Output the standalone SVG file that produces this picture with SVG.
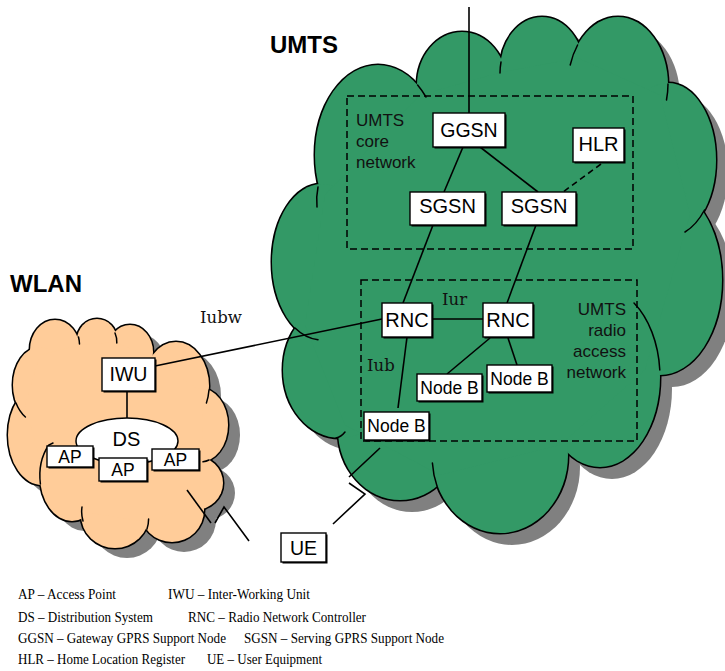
<svg xmlns="http://www.w3.org/2000/svg" width="725" height="671" viewBox="0 0 725 671">
<style>
  .shadow{fill:#808080;stroke:none}
  .umts-edge{fill:#339966;stroke:#000;stroke-width:3}
  .umts-fill{fill:#339966;stroke:none}
  .wlan-edge{fill:#ffcc99;stroke:#000;stroke-width:3}
  .wlan-fill{fill:#ffcc99;stroke:none}
  .crease{fill:none;stroke:#000;stroke-width:1.5;stroke-linecap:round}
  .frame{fill:none;stroke:#000;stroke-width:1.5;stroke-dasharray:7 4}
  .link{fill:none;stroke:#000;stroke-width:1.6}
  .dashed{stroke-dasharray:6 4}
  .box{fill:#fff;stroke:#000;stroke-width:1.4}
  .drop{fill:#000}
  .sans{font-family:"Liberation Sans",Arial,sans-serif;fill:#000}
  .mid{text-anchor:middle}
  .end{text-anchor:end}
  .title{font-weight:bold;font-size:24px}
  .note{font-size:17px;fill:#111}
  .iface{font-family:"DejaVu Serif","Liberation Serif",serif;font-size:16.5px;fill:#111}
  .legend{font-family:"Liberation Serif","Times New Roman",serif;font-size:15px;fill:#000}
</style>
<defs>
  <!-- UMTS cloud: overlapping lobes plus a core patch that closes the middle -->
  <g id="umts-lobes">
    <ellipse cx="378" cy="155" rx="63" ry="90"/>
    <ellipse cx="462" cy="85" rx="45" ry="53"/>
    <ellipse cx="542" cy="70" rx="42" ry="53"/>
    <ellipse cx="618" cy="85" rx="50" ry="68"/>
    <ellipse cx="668" cy="160" rx="48" ry="77"/>
    <ellipse cx="660" cy="280" rx="62" ry="95"/>
    <ellipse cx="600" cy="377" rx="60" ry="90"/>
    <ellipse cx="500" cy="455" rx="68" ry="78"/>
    <ellipse cx="400" cy="430" rx="62" ry="70"/>
    <ellipse cx="340" cy="370" rx="57" ry="68"/>
    <ellipse cx="322" cy="262" rx="50" ry="78"/>
  </g>
  <polygon id="umts-core" points="325,195 420,95 502,72 578,58 660,95 690,215 645,370 560,445 440,475 345,425 305,325"/>
  <!-- WLAN cloud -->
  <g id="wlan-lobes">
    <ellipse cx="55" cy="350" rx="25" ry="30"/>
    <ellipse cx="97" cy="340" rx="20" ry="21"/>
    <ellipse cx="130" cy="352" rx="23" ry="27"/>
    <ellipse cx="176" cy="386" rx="33" ry="44"/>
    <ellipse cx="200" cy="425" rx="28" ry="37"/>
    <ellipse cx="195" cy="483" rx="28" ry="27"/>
    <ellipse cx="172" cy="510" rx="32" ry="32"/>
    <ellipse cx="115" cy="515" rx="34" ry="33"/>
    <ellipse cx="72" cy="476" rx="32" ry="45"/>
    <ellipse cx="42" cy="435" rx="34" ry="50"/>
    <ellipse cx="40" cy="385" rx="27" ry="38"/>
  </g>
  <polygon id="wlan-core" points="40,355 80,345 115,342 152,358 202,392 203,458 198,505 147,522 85,512 45,478 25,405"/>
</defs>

<!-- WLAN cloud -->
<g id="wlan-cloud">
  <g transform="translate(12,10)" class="shadow">
    <use href="#wlan-lobes"/>
    <use href="#wlan-core"/>
  </g>
  <use href="#wlan-lobes" class="wlan-edge"/>
  <g class="wlan-fill">
    <use href="#wlan-lobes"/>
    <use href="#wlan-core"/>
  </g>
  <g class="crease">
    <path d="M16,403 A27,38 0 0 0 25.4,417"/>
    <path d="M78.5,337 A25,30 0 0 1 79.5,344"/>
    <path d="M115,333 A20,21 0 0 1 116.8,343"/>
    <path d="M209,390 A33,44 0 0 1 206.4,403"/>
    <path d="M209,460 A28,37 0 0 1 203,461.8"/>
    <path d="M83,521 A34,33 0 0 1 82,507"/>
    <path d="M147,529 A34,33 0 0 0 148.6,519"/>
    <path d="M40.4,484 A32,45 0 0 1 48.8,445 L53,443"/>
  </g>
</g>

<!-- UMTS cloud -->
<g id="umts-cloud">
  <g transform="translate(12,12)" class="shadow">
    <use href="#umts-lobes"/>
    <use href="#umts-core"/>
  </g>
  <use href="#umts-lobes" class="umts-edge"/>
  <g class="umts-fill">
    <use href="#umts-lobes"/>
    <use href="#umts-core"/>
  </g>
  <g class="crease">
    <path d="M318,187 Q316,197 317,207"/>
    <path d="M417.6,85 A63,90 0 0 1 426,97"/>
    <path d="M501,62 A42,53 0 0 0 500,73"/>
    <path d="M577.6,45 A50,68 0 0 0 570.2,65"/>
    <path d="M668,84 A50,68 0 0 1 666.5,100"/>
    <path d="M704.5,210 A48,77 0 0 1 685,232"/>
    <path d="M634,303 A60,90 0 0 1 659.8,370"/>
    <path d="M437,486 A68,78 0 0 1 432.4,463"/>
    <path d="M336,438 Q341,437 345,432"/>
    <path d="M295,328 A50,78 0 0 0 318,339.7"/>
  </g>
</g>

<!-- network domains -->
<rect id="core-network" class="frame" x="347" y="96" width="286" height="153"/>
<rect id="radio-access-network" class="frame" x="361" y="280" width="276" height="161"/>

<!-- connectors -->
<g id="connectors" class="link">
  <line x1="469" y1="7" x2="469" y2="113"/>
  <line x1="463" y1="147" x2="444" y2="192"/>
  <line x1="480" y1="147" x2="538" y2="192"/>
  <line class="dashed" x1="601" y1="164" x2="563" y2="192"/>
  <line x1="433" y1="225" x2="403" y2="303"/>
  <line x1="536" y1="225" x2="507" y2="303"/>
  <line x1="432" y1="319" x2="483" y2="319"/>
  <line x1="407" y1="337" x2="398" y2="408"/>
  <line x1="490" y1="338" x2="447" y2="374"/>
  <line x1="508" y1="338" x2="517" y2="365"/>
  <line x1="155" y1="366" x2="382" y2="319"/>
  <line x1="127" y1="391" x2="127" y2="418"/>
  <!-- radio links towards the UE -->
  <line x1="380" y1="448" x2="349" y2="477"/>
  <polyline points="349,483 365,494 333,524"/>
  <line x1="187" y1="490" x2="211" y2="523"/>
  <polyline points="215,523 224,507 249,541"/>
</g>

<!-- UMTS nodes -->
<g id="ggsn">
  <rect class="drop" x="434.5" y="114.5" width="72" height="34"/>
  <rect class="box" x="433" y="113" width="72" height="34"/>
  <text class="sans mid" x="469" y="136.5" font-size="19.5">GGSN</text>
</g>
<g id="hlr">
  <rect class="drop" x="574.5" y="129.5" width="51" height="34"/>
  <rect class="box" x="573" y="128" width="51" height="34"/>
  <text class="sans mid" x="598.5" y="151" font-size="20">HLR</text>
</g>
<g id="sgsn-1">
  <rect class="drop" x="411.5" y="193.5" width="75" height="33"/>
  <rect class="box" x="410" y="192" width="75" height="33"/>
  <text class="sans mid" x="447.5" y="213" font-size="20">SGSN</text>
</g>
<g id="sgsn-2">
  <rect class="drop" x="503.5" y="193.5" width="74" height="33"/>
  <rect class="box" x="502" y="192" width="74" height="33"/>
  <text class="sans mid" x="539" y="213" font-size="20">SGSN</text>
</g>
<g id="rnc-1">
  <rect class="drop" x="383.5" y="304.5" width="50" height="34"/>
  <rect class="box" x="382" y="303" width="50" height="34"/>
  <text class="sans mid" x="407" y="327" font-size="20">RNC</text>
</g>
<g id="rnc-2">
  <rect class="drop" x="484.5" y="304.5" width="50" height="34"/>
  <rect class="box" x="483" y="303" width="50" height="34"/>
  <text class="sans mid" x="508" y="327" font-size="20">RNC</text>
</g>
<g id="node-b-1">
  <rect class="drop" x="365.5" y="413.5" width="65" height="28"/>
  <rect class="box" x="364" y="412" width="65" height="28"/>
  <text class="sans mid" x="396.5" y="432" font-size="17.5">Node B</text>
</g>
<g id="node-b-2">
  <rect class="drop" x="418.5" y="375.5" width="65" height="27"/>
  <rect class="box" x="417" y="374" width="65" height="27"/>
  <text class="sans mid" x="449.5" y="393.5" font-size="17.5">Node B</text>
</g>
<g id="node-b-3">
  <rect class="drop" x="488.5" y="366.5" width="65" height="27"/>
  <rect class="box" x="487" y="365" width="65" height="27"/>
  <text class="sans mid" x="519.5" y="384.5" font-size="17.5">Node B</text>
</g>
<g id="ue">
  <rect class="drop" x="282.5" y="534.5" width="45" height="29"/>
  <rect class="box" x="281" y="533" width="45" height="29"/>
  <text class="sans mid" x="303.5" y="554.5" font-size="19.5">UE</text>
</g>

<!-- WLAN nodes -->
<g id="iwu">
  <rect class="drop" x="103.5" y="359.5" width="53" height="33"/>
  <rect class="box" x="102" y="358" width="53" height="33"/>
  <text class="sans mid" x="128.5" y="381" font-size="19.5">IWU</text>
</g>
<g id="ds">
  <ellipse cx="127" cy="441" rx="51" ry="23" fill="#fff" stroke="#000" stroke-width="1.5"/>
  <text class="sans mid" x="126.5" y="446" font-size="20">DS</text>
</g>
<g id="ap-1">
  <rect class="drop" x="48.5" y="447.5" width="46" height="21"/>
  <rect class="box" x="47" y="446" width="46" height="21"/>
  <text class="sans mid" x="70" y="463" font-size="17.5">AP</text>
</g>
<g id="ap-2">
  <rect class="drop" x="100.5" y="459.5" width="48" height="23"/>
  <rect class="box" x="99" y="458" width="48" height="23"/>
  <text class="sans mid" x="123" y="476" font-size="17.5">AP</text>
</g>
<g id="ap-3">
  <rect class="drop" x="153.5" y="450.5" width="47" height="21"/>
  <rect class="box" x="152" y="449" width="47" height="21"/>
  <text class="sans mid" x="175.5" y="466" font-size="17.5">AP</text>
</g>

<!-- labels -->
<text class="sans title" x="270" y="53">UMTS</text>
<text class="sans title" x="10" y="292">WLAN</text>
<text class="sans note" x="356" y="126">UMTS</text>
<text class="sans note" x="356" y="147">core</text>
<text class="sans note" x="356" y="167.5">network</text>
<text class="sans note end" x="626" y="315">UMTS</text>
<text class="sans note end" x="626" y="336">radio</text>
<text class="sans note end" x="626" y="357">access</text>
<text class="sans note end" x="626" y="377.5">network</text>
<text class="iface" x="200" y="323">Iubw</text>
<text class="iface" x="442" y="305">Iur</text>
<text class="iface" x="367" y="371">Iub</text>

<!-- abbreviations -->
<g class="legend">
  <text x="18" y="599" textLength="98" lengthAdjust="spacingAndGlyphs">AP – Access Point</text>
  <text x="168" y="599" textLength="142" lengthAdjust="spacingAndGlyphs">IWU – Inter-Working Unit</text>
  <text x="18" y="622" textLength="135" lengthAdjust="spacingAndGlyphs">DS – Distribution System</text>
  <text x="188" y="622" textLength="178" lengthAdjust="spacingAndGlyphs">RNC – Radio Network Controller</text>
  <text x="18" y="643" textLength="208" lengthAdjust="spacingAndGlyphs">GGSN – Gateway GPRS Support Node</text>
  <text x="244" y="643" textLength="200" lengthAdjust="spacingAndGlyphs">SGSN – Serving GPRS Support Node</text>
  <text x="18" y="664" textLength="167" lengthAdjust="spacingAndGlyphs">HLR – Home Location Register</text>
  <text x="207" y="664" textLength="115" lengthAdjust="spacingAndGlyphs">UE – User Equipment</text>
</g>
</svg>
